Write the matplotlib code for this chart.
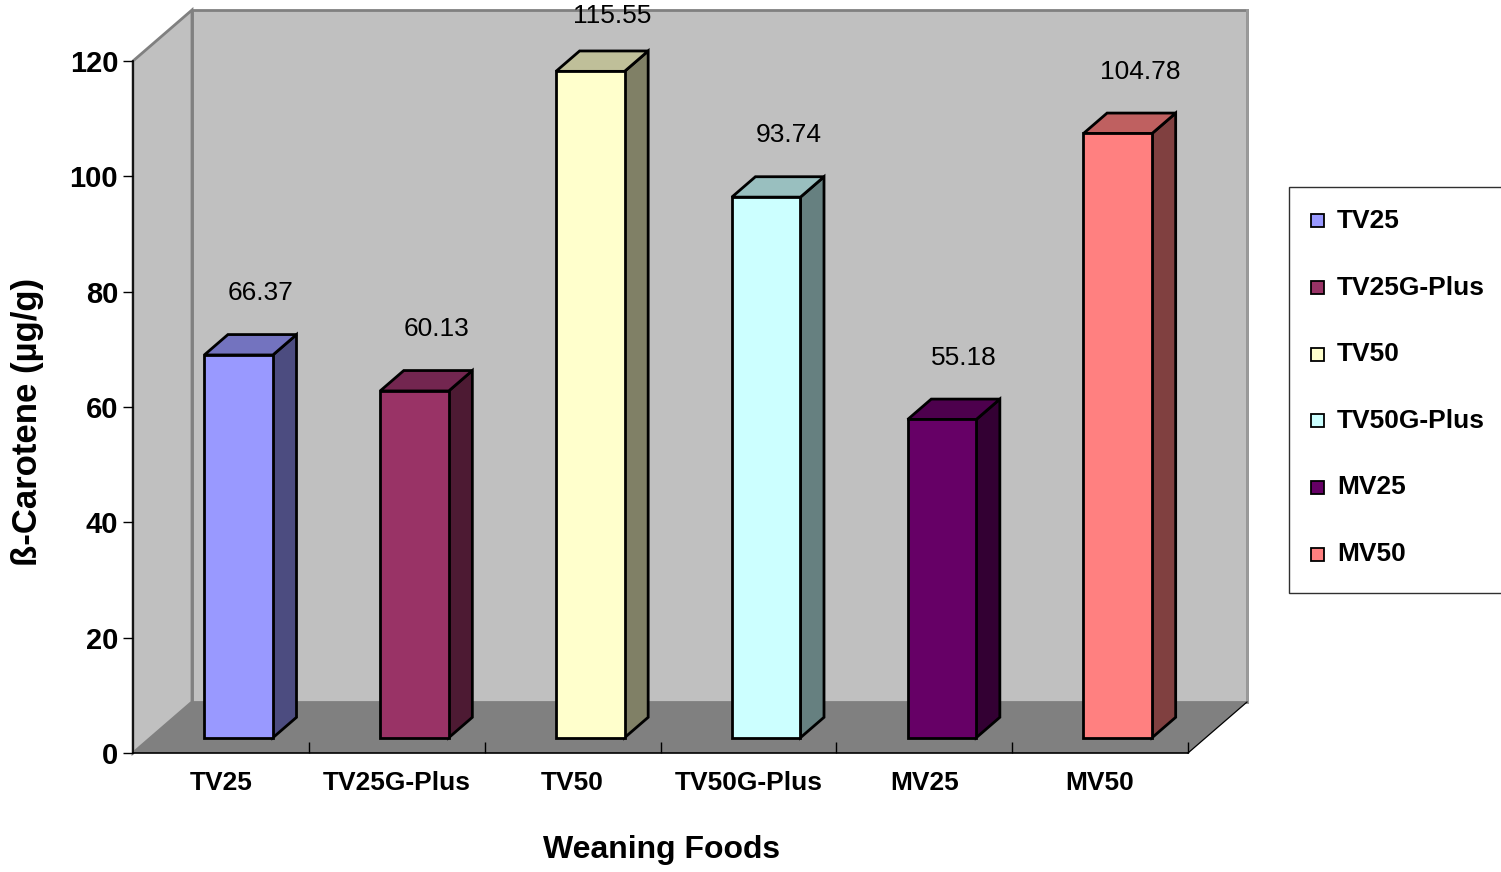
import matplotlib
matplotlib.use("Agg")
import matplotlib.pyplot as plt
from matplotlib.patches import Polygon, Rectangle
from matplotlib.lines import Line2D

plt.rcParams['font.family'] = ['Liberation Sans', 'DejaVu Sans']

# ---- data ----
foods = ["TV25", "TV25G-Plus", "TV50", "TV50G-Plus", "MV25", "MV50"]
beta_carotene = [66.37, 60.13, 115.55, 93.74, 55.18, 104.78]
y_ticks = [0, 20, 40, 60, 80, 100, 120]

# face colours: front, side, top
front_colors = ["#9999FF", "#993366", "#FFFFCC", "#CCFFFF", "#660066", "#FF8080"]
side_colors = ["#4C4C80", "#4D1A33", "#808066", "#668080", "#330033", "#804040"]
top_colors = ["#7373BF", "#732650", "#BFBF99", "#99BFBF", "#4D004D", "#BF6060"]

W, H = 1501, 872
DPI = 100
fig = plt.figure(figsize=(W / DPI, H / DPI), dpi=DPI)
fig.patch.set_facecolor("white")

# front plane of the 3-D box
left_px, right_px, bottom_px, top_px = 133, 1188, 753, 61
ax = fig.add_axes([left_px / W, 1 - bottom_px / H,
                   (right_px - left_px) / W, (bottom_px - top_px) / H])
n = len(foods)
ymax = 120
ax.set_xlim(0, n)
ax.set_ylim(0, ymax)
ax.set_facecolor("none")

# depth of the box, converted from pixels into data units
px_per_x = (right_px - left_px) / n
px_per_y = (bottom_px - top_px) / ymax
DX = 59 / px_per_x
DY = 51 / px_per_y

# walls and floor
back_wall = Polygon([(DX, DY), (n + DX, DY), (n + DX, ymax + DY), (DX, ymax + DY)],
                    closed=True, facecolor="#C0C0C0", edgecolor="#808080",
                    linewidth=2, zorder=0.5, clip_on=False)
left_wall = Polygon([(0, 0), (DX, DY), (DX, ymax + DY), (0, ymax)],
                    closed=True, facecolor="#C0C0C0", edgecolor="#808080",
                    linewidth=2, zorder=0.6, clip_on=False)
floor = Polygon([(0, 0), (n, 0), (n + DX, DY), (DX, DY)],
                closed=True, facecolor="#808080", edgecolor="none",
                zorder=1, clip_on=False)
for p in (back_wall, left_wall, floor):
    ax.add_patch(p)
ax.add_line(Line2D([n, n + DX], [0, DY], color="black", lw=0.9,
                   zorder=1.2, clip_on=False))
ax.add_line(Line2D([n + DX, n + DX], [DY, ymax + DY], color="#9A9A9A", lw=2,
                   zorder=0.7, clip_on=False))

# 3-D columns
bar_w = 0.39
f0, f1 = 0.30, 0.70
label_dx_px, label_dy_px = 40, 77
label_top_limit = H - 16   # keep value labels inside the chart area
for i, v in enumerate(beta_carotene):
    xc = i + 0.5
    x0, x1 = xc - bar_w / 2, xc + bar_w / 2
    fx, fy = f0 * DX, f0 * DY
    bx, by = f1 * DX, f1 * DY
    front = Polygon([(x0 + fx, fy), (x1 + fx, fy), (x1 + fx, v + fy), (x0 + fx, v + fy)],
                    closed=True)
    side = Polygon([(x1 + fx, fy), (x1 + bx, by), (x1 + bx, v + by), (x1 + fx, v + fy)],
                   closed=True)
    top = Polygon([(x0 + fx, v + fy), (x1 + fx, v + fy), (x1 + bx, v + by), (x0 + bx, v + by)],
                  closed=True)
    for poly, col in ((side, side_colors[i]), (top, top_colors[i]), (front, front_colors[i])):
        poly.set_facecolor(col)
        poly.set_edgecolor("black")
        poly.set_linewidth(2.0)
        poly.set_joinstyle("miter")
        poly.set_zorder(3 + i * 0.1)
        poly.set_clip_on(False)
        ax.add_patch(poly)
    base_y = ax.transData.transform((xc, v))[1]
    dy = min(base_y + label_dy_px, label_top_limit) - base_y
    ax.annotate(f"{v:.2f}", xy=(xc, v),
                xytext=(label_dx_px * 72 / DPI, dy * 72 / DPI), textcoords="offset points",
                ha="center", va="center", fontsize=19, color="black",
                zorder=10, annotation_clip=False)

# axes: front edges of the box
for s in ("top", "right"):
    ax.spines[s].set_visible(False)
for s in ("left", "bottom"):
    ax.spines[s].set_color("black")
    ax.spines[s].set_linewidth(1.2)
    ax.spines[s].set_zorder(2)

ax.set_yticks(y_ticks)
ax.set_yticklabels([str(t) for t in y_ticks], fontsize=21, fontweight="bold")
ax.tick_params(axis="y", direction="out", length=7.2, width=1.0, pad=3.5)

ax.set_xticks([i + 0.5 for i in range(n)])
ax.set_xticklabels(foods, fontsize=19, fontweight="bold")
ax.tick_params(axis="x", which="major", length=0, pad=13)
ax.set_xticks(list(range(1, n + 1)), minor=True)
ax.tick_params(axis="x", which="minor", direction="in", length=8, width=1.0)

fig.text(662 / W, 1 - 850 / H, "Weaning Foods", ha="center", va="center",
         fontsize=23, fontweight="bold")
fig.text(27 / W, 1 - 422 / H, "ß-Carotene (µg/g)", ha="center", va="center",
         rotation=90, fontsize=25, fontweight="bold")

# legend box
lx0, ly0, ly1 = 1289, 187, 593
fig.patches.append(Rectangle((lx0 / W, 1 - ly1 / H), (W + 10 - lx0) / W, (ly1 - ly0) / H,
                             transform=fig.transFigure, facecolor="white",
                             edgecolor="#303030", linewidth=1.0, zorder=1))
entry_y0, entry_step = 221, 66.6
for i, name in enumerate(foods):
    yc = entry_y0 + i * entry_step
    fig.patches.append(Rectangle((1311 / W, 1 - (yc + 6.5) / H), 13 / W, 13 / H,
                                 transform=fig.transFigure, facecolor=front_colors[i],
                                 edgecolor="black", linewidth=1.3, zorder=2))
    fig.text(1337 / W, 1 - yc / H, name, ha="left", va="center",
             fontsize=19, fontweight="bold", zorder=3)

fig.savefig("out.png", dpi=DPI)
